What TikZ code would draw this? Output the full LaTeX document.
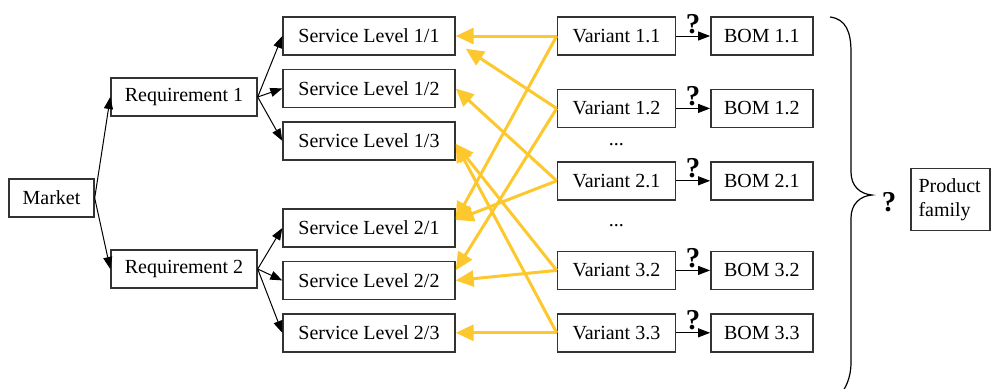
\documentclass[tikz,border=0pt]{standalone}
\usepackage{fontspec}
\setmainfont{Liberation Serif}
\usepackage{tikz}
\usetikzlibrary{positioning, calc, arrows.meta}
\definecolor{choiceyellow}{RGB}{252,200,45}

\begin{document}
\begin{tikzpicture}[
    x=0.5pt, y=-0.5pt,
    box/.style={rectangle, draw=black!80, line width=0.7pt, minimum height=19pt, inner sep=0pt},
    marketbox/.style={box, minimum width=42.5pt},
    reqbox/.style={box, minimum width=73pt},
    levelbox/.style={box, minimum width=86pt},
    variantbox/.style={box, minimum width=59pt},
    bombox/.style={box, minimum width=51pt},
    familybox/.style={box, minimum width=39.5pt, minimum height=31pt, text width=32pt, align=left},
    link/.style={-{Triangle[length=6pt,width=4.5pt]}, line width=0.5pt},
    choice/.style={-{Triangle[length=9pt,width=8pt]}, line width=1.5pt, draw=choiceyellow, fill=choiceyellow},
    query/.style={font=\Large\bfseries, inner sep=1pt}
]
\useasboundingbox (0,0) rectangle (991,388);

% Market and requirements
\node[marketbox] (market) at (51.5,198) {Market};
\node[reqbox] (req1) at (184,97) {Requirement 1};
\node[reqbox] (req2) at (184,269) {Requirement 2};

% Service levels
\node[levelbox] (sl11) at (369,36) {Service Level 1/1};
\node[levelbox, below=6.5pt of sl11] (sl12) {Service Level 1/2};
\node[levelbox, below=6.5pt of sl12] (sl13) {Service Level 1/3};
\node[levelbox] (sl21) at (369,228) {Service Level 2/1};
\node[levelbox, below=6.5pt of sl21] (sl22) {Service Level 2/2};
\node[levelbox, below=6.5pt of sl22] (sl23) {Service Level 2/3};

% Variants
\node[variantbox, right=50.5pt of sl11] (v11) {Variant 1.1};
\node[variantbox, below=16.5pt of v11] (v12) {Variant 1.2};
\node[variantbox, below=16.5pt of v12] (v21) {Variant 2.1};
\node[variantbox, right=50.5pt of sl23] (v33) {Variant 3.3};
\node[variantbox, above=11.5pt of v33] (v32) {Variant 3.2};
\node (dots1) at ($(v12.south)!0.5!(v21.north)$) {...};
\node (dots2) at ($(v21.south)!0.5!(v32.north)$) {...};

% Bills of material
\foreach \v/\t in {11/1.1, 12/1.2, 21/2.1, 32/3.2, 33/3.3}
    \node[bombox, right=17pt of v\v] (bom\v) {BOM \t};

% Product family
\node[familybox] (family) at (950.5,199.5) {Product\\family};
\node[query] (qfamily) at (889,202) {?};

% Edges
\draw[link] (market.east) -- (req1.west);
\draw[link] (market.east) -- (req2.west);
\foreach \s in {sl11,sl12,sl13}
    \draw[link] (req1.east) -- (\s.west);
\foreach \s in {sl21,sl22,sl23}
    \draw[link] (req2.east) -- (\s.west);
\foreach \v in {11,12,21,32,33}
    \draw[link] (v\v.east) -- node[query, above] {?} (bom\v.west);

% Variants back to service levels
\draw[choice] (v11.west) -- (sl11.east);
\draw[choice] (v11.west) -- ([yshift=4pt]sl21.east);
\draw[choice] (v12.west) -- ([shift={(5pt,3.5pt)}]sl11.south east);
\draw[choice] (v12.west) -- ([yshift=5pt]sl22.east);
\draw[choice] (v21.west) -- (sl12.east);
\draw[choice] (v21.west) -- ([yshift=4pt]sl21.east);
\draw[choice] (v32.west) -- ([yshift=-1.5pt]sl13.east);
\draw[choice] (v32.west) -- (sl22.east);
\draw[choice] (v33.west) -- ([yshift=-1.5pt]sl13.east);
\draw[choice] (v33.west) -- (sl23.east);

% Brace
\draw[line width=0.6pt] (830,17) .. controls (846,19) and (851,32) .. (851,52)
    -- (851,172) .. controls (851,186) and (860,194) .. (872,195)
    .. controls (860,196) and (851,204) .. (851,218)
    -- (851,362) .. controls (851,378) and (846,388) .. (838,398);

\end{tikzpicture}
\end{document}
